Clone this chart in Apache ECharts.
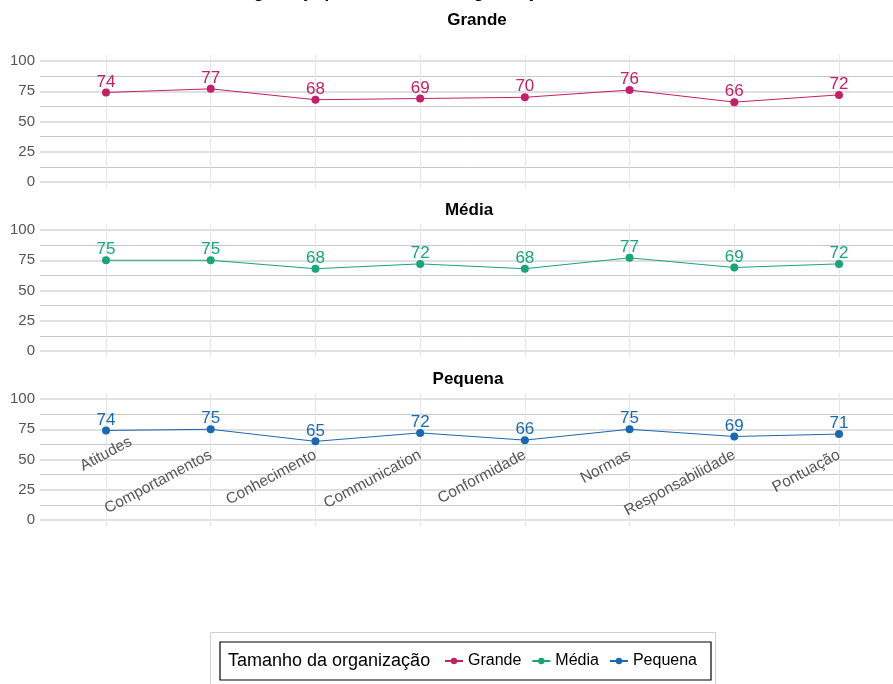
<!DOCTYPE html>
<html>
<head>
<meta charset="utf-8">
<script src="https://cdn.jsdelivr.net/npm/echarts@6/dist/echarts.min.js"></script>
<style>
  html, body { margin: 0; padding: 0; background: #fff; }
  #chart { width: 893px; height: 684px; }
</style>
</head>
<body>
<div id="chart"></div>
<script>
// Dimension names (x categories)
const categories = ['Atitudes', 'Comportamentos', 'Conhecimento', 'Communication',
  'Conformidade', 'Normas', 'Responsabilidade', 'Pontuação'];

// Scores per organisation size
const grande  = [74, 77, 68, 69, 70, 76, 66, 72];
const media   = [75, 75, 68, 72, 68, 77, 69, 72];
const pequena = [74, 75, 65, 72, 66, 75, 69, 71];

const panelNames = ['Grande', 'Média', 'Pequena'];
const yTicks = [0, 25, 50, 75, 100];

const FONT = 'Liberation Sans, Arial, sans-serif';
const colors = ['#c2206a', '#1aa478', '#1a68b0'];
const panelData = [grande, media, pequena];
const panelTop = [61, 230, 399];   // pixel row of the 100 gridline
const panelH = 121;                 // 100 -> 0 span
const pad = 6;                      // vertical extension of the facet area
const titleX = [477, 469, 468];
const titleY = [12, 202, 371];

const grids = [], xAxes = [], yAxes = [], series = [], graphics = [];

panelData.forEach((vals, i) => {
  const top = panelTop[i];
  // background grid carrying the y scale and horizontal lines
  grids.push({ left: 40, right: -20, top: top, height: panelH });
  xAxes.push({ gridIndex: grids.length - 1, type: 'value', min: 0, max: 1, show: false });
  yAxes.push({
    gridIndex: grids.length - 1, type: 'value', min: yTicks[0], max: yTicks[yTicks.length - 1],
    interval: 25,
    axisLine: { show: false }, axisTick: { show: false },
    axisLabel: { color: '#555', fontSize: 15, fontFamily: FONT, margin: 5 },
    splitLine: { show: true, lineStyle: { color: '#e0e0e0', width: 2 } },
    minorTick: { show: false, splitNumber: 2 },
    minorSplitLine: { show: true, lineStyle: { color: '#c8c8c8', width: 1 } }
  });

  // data grid: category positions, vertical gridlines and the series
  grids.push({ left: 106, width: 733, top: top - pad, height: panelH + 2 * pad });
  const gi = grids.length - 1;
  const isLast = i === panelData.length - 1;
  xAxes.push({
    gridIndex: gi, type: 'category', boundaryGap: false,
    data: categories.map((c, k) => (isLast && k === 0) ? { value: c, textStyle: { align: 'center' } } : c),
    axisLine: { show: false }, axisTick: { show: false },
    axisLabel: {
      show: isLast, interval: 0, rotate: 28, margin: -72, color: '#555',
      fontSize: 15.5, fontFamily: FONT, hideOverlap: false
    },
    splitLine: { show: true, lineStyle: { color: '#e6e6e6', width: 1 } }
  });
  yAxes.push({
    gridIndex: gi, type: 'value', min: -pad / panelH * 100, max: 100 + pad / panelH * 100,
    show: false, splitLine: { show: false }
  });
  series.push({
    name: panelNames[i], type: 'line', xAxisIndex: xAxes.length - 1, yAxisIndex: yAxes.length - 1,
    data: vals, symbol: 'circle', symbolSize: 8,
    itemStyle: { color: colors[i] },
    lineStyle: { color: colors[i], width: 1 },
    label: { show: true, position: 'top', distance: -2, color: colors[i], fontSize: 17, fontFamily: FONT },
    emphasis: { disabled: true }
  });

  graphics.push({
    type: 'text', x: titleX[i], y: titleY[i],
    style: { text: panelNames[i], fill: '#000', font: 'bold 17px ' + FONT, textAlign: 'center', textVerticalAlign: 'top' }
  });
});

// legend frame and heading
graphics.push({
  type: 'rect', shape: { x: 210.5, y: 632.5, width: 505, height: 70 },
  style: { fill: '#fff', stroke: '#cfcfcf', lineWidth: 1 }, z: -1
});
graphics.push({
  type: 'text', x: 228, y: 661,
  style: { text: 'Tamanho da organização', fill: '#000', font: '18px ' + FONT, textVerticalAlign: 'middle' }, z: 10
});

const chart = echarts.init(document.getElementById('chart'), null, { renderer: 'canvas' });
chart.setOption({
  animation: false,
  backgroundColor: '#fff',
  title: {
    text: 'Cultura de segurança por tamanho da organização',
    left: 146, top: -15, padding: 0,
    textStyle: { fontFamily: FONT, fontSize: 17, fontWeight: 'bold', color: '#000' }
  },
  grid: grids,
  xAxis: xAxes,
  yAxis: yAxes,
  series: series,
  legend: {
    data: panelNames,
    left: 220, top: 642,
    padding: [11, 14, 11, 224],
    borderColor: '#000', borderWidth: 1.2,
    itemGap: 10, itemWidth: 18, itemHeight: 8,
    textStyle: { fontFamily: FONT, fontSize: 16, color: '#000' },
    selectedMode: false
  },
  graphic: graphics
});
</script>
</body>
</html>
